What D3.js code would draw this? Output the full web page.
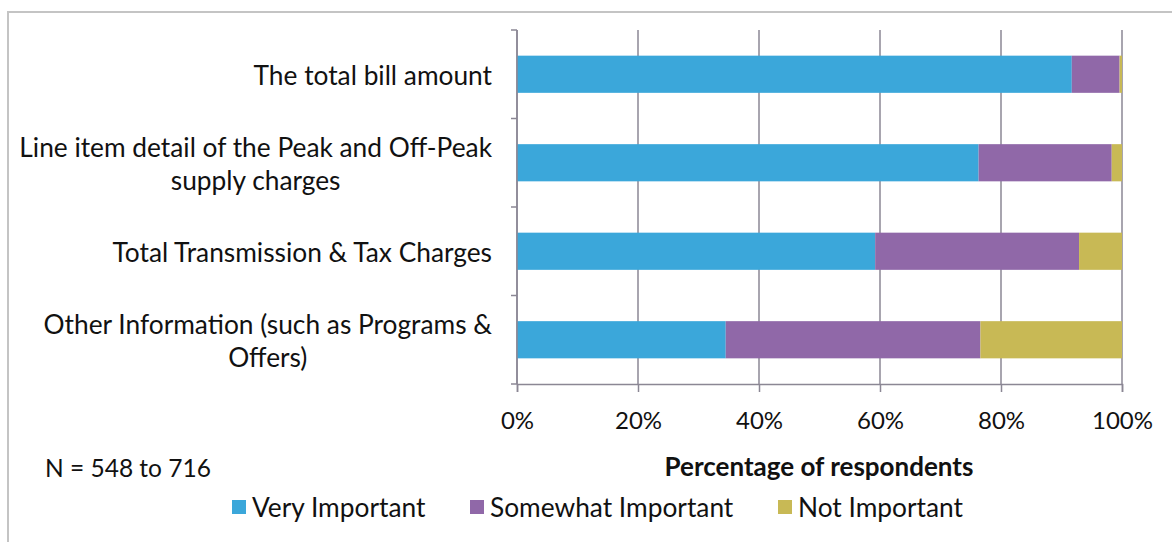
<!DOCTYPE html>
<html>
<head>
<meta charset="utf-8">
<script src="https://cdn.jsdelivr.net/npm/d3@7"></script>
<style>
  html, body { margin: 0; padding: 0; background: #fff; }
  svg { display: block; }
  text { font-family: Lato, "Open Sans", sans-serif; fill: #111; }
</style>
</head>
<body>
<svg id="chart" width="1174" height="542"></svg>
<script>
// Bill items rated by importance (share of respondents)
const categories = [
  ["The total bill amount"],
  ["Line item detail of the Peak and Off-Peak", "supply charges"],
  ["Total Transmission & Tax Charges"],
  ["Other Information (such as Programs &", "Offers)"]
];
const seriesNames = ["Very Important", "Somewhat Important", "Not Important"];
const veryImportant     = [91.7, 76.3, 59.2, 34.5];
const somewhatImportant = [7.9, 22.0, 33.7, 42.1];
const notImportant      = [0.4, 1.7, 7.1, 23.4];
const xTicks = [0, 20, 40, 60, 80, 100];
const axisTitle = "Percentage of respondents";
const sampleNote = "N = 548 to 716";

const colors = ["#3ba7da", "#9068a8", "#c8b955"];

const svg = d3.select("#chart");
const W = 1174, H = 542;

// outer frame
svg.append("path")
  .attr("d", `M8,${H} L8,12 L${W - 2},12`)
  .attr("fill", "none").attr("stroke", "#c4c4c4").attr("stroke-width", 2);

const x = d3.scaleLinear().domain([0, 100]).range([517, 1122]);
const keys = categories.map((c, i) => i);
const y = d3.scaleBand().domain(keys).range([30, 384]).paddingInner(0.58).paddingOuter(0.29);

const rows = keys.map(i => ({ i, v: [veryImportant[i], somewhatImportant[i], notImportant[i]] }));
const stack = d3.stack().keys([0, 1, 2]).value((d, k) => d.v[k]);
const layers = stack(rows);

const gridColor = "#8b8794";

// vertical gridlines
svg.append("g").selectAll("line").data(xTicks).join("line")
  .attr("x1", d => x(d)).attr("x2", d => x(d))
  .attr("y1", 30).attr("y2", 384)
  .attr("stroke", gridColor).attr("stroke-width", 1.5);

// stacked bars
svg.append("g").selectAll("g").data(layers).join("g")
  .attr("fill", (d, k) => colors[k])
  .selectAll("rect").data(d => d).join("rect")
  .attr("x", d => x(d[0]))
  .attr("width", d => x(d[1]) - x(d[0]))
  .attr("y", d => y(d.data.i))
  .attr("height", y.bandwidth());

// category axis line with ticks between categories
const step = y.step();
const boundaries = d3.range(categories.length + 1).map(k => 30 + k * step);
svg.append("line").attr("x1", 517).attr("x2", 517).attr("y1", 30).attr("y2", 384)
  .attr("stroke", gridColor).attr("stroke-width", 1.5);
svg.append("g").selectAll("line").data(boundaries).join("line")
  .attr("x1", 511).attr("x2", 517).attr("y1", d => d).attr("y2", d => d)
  .attr("stroke", gridColor).attr("stroke-width", 1.5);

// value axis
const xAxis = d3.axisBottom(x).tickValues(xTicks).tickFormat(d => d + "%").tickSize(8).tickPadding(20);
const gx = svg.append("g").attr("transform", "translate(0,384)").call(xAxis);
gx.select(".domain").attr("stroke", gridColor).attr("stroke-width", 1.5);
gx.selectAll(".tick line").attr("stroke", gridColor).attr("stroke-width", 1.5);
gx.selectAll(".tick text").style("font-family", "Lato, sans-serif").style("font-size", "24px").attr("fill", "#111");

// category labels: centred multi-line block, right-aligned at the axis
const labelRight = 492, lineH = 33;
const labelG = svg.append("g").style("font-size", "26.3px");
categories.forEach((lines, i) => {
  const cy = y(i) + y.bandwidth() / 2 + 1;
  const t = labelG.append("text").attr("text-anchor", "middle").attr("dominant-baseline", "central");
  const spans = lines.map((ln, j) => t.append("tspan").text(ln)
    .attr("y", cy + (j - (lines.length - 1) / 2) * lineH));
  const widths = spans.map(s => s.node().getComputedTextLength());
  const cx = labelRight - d3.max(widths) / 2;
  spans.forEach(s => s.attr("x", cx));
});

// axis title and sample note
svg.append("text").attr("x", 819).attr("y", 466).attr("text-anchor", "middle")
  .attr("dominant-baseline", "central").style("font-size", "26px").style("font-weight", "bold")
  .text(axisTitle);
svg.append("text").attr("x", 45).attr("y", 467).attr("dominant-baseline", "central")
  .style("font-size", "24.5px").text(sampleNote);

// legend
const legendX = [232, 470, 778];
const lg = svg.append("g").selectAll("g").data(seriesNames).join("g")
  .attr("transform", (d, k) => `translate(${legendX[k]},507)`);
lg.append("rect").attr("x", 0).attr("y", -7).attr("width", 14).attr("height", 14)
  .attr("fill", (d, k) => colors[k]);
lg.append("text").attr("x", 20).attr("y", 0).attr("dominant-baseline", "central")
  .style("font-size", "26.3px").text(d => d);
</script>
</body>
</html>
